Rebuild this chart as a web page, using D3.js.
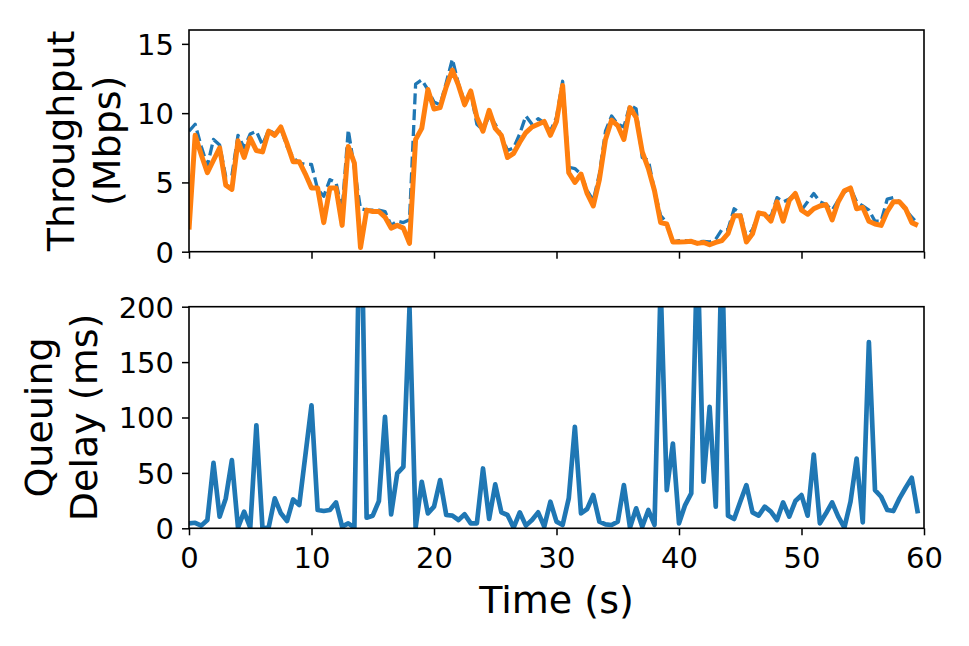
<!DOCTYPE html>
<html>
<head>
<meta charset="utf-8">
<script src="https://cdn.jsdelivr.net/npm/d3@7"></script>
<style>
  body { margin: 0; background: #fff; }
  svg { font-family: "DejaVu Sans", sans-serif; }
</style>
</head>
<body>
<svg id="chart" width="969" height="646"></svg>
<script>
// sample times (s), one sample every 0.5 s
var time = [
  0, 0.5, 1, 1.5, 2, 2.5, 3, 3.5, 4, 4.5, 5, 5.5, 6, 6.5, 7, 7.5, 8, 8.5, 9, 9.5,
  10, 10.5, 11, 11.5, 12, 12.5, 13, 13.5, 14, 14.5, 15, 15.5, 16, 16.5, 17, 17.5, 18, 18.5, 19, 19.5,
  20, 20.5, 21, 21.5, 22, 22.5, 23, 23.5, 24, 24.5, 25, 25.5, 26, 26.5, 27, 27.5, 28, 28.5, 29, 29.5,
  30, 30.5, 31, 31.5, 32, 32.5, 33, 33.5, 34, 34.5, 35, 35.5, 36, 36.5, 37, 37.5, 38, 38.5, 39, 39.5,
  40, 40.5, 41, 41.5, 42, 42.5, 43, 43.5, 44, 44.5, 45, 45.5, 46, 46.5, 47, 47.5, 48, 48.5, 49, 49.5,
  50, 50.5, 51, 51.5, 52, 52.5, 53, 53.5, 54, 54.5, 55, 55.5, 56, 56.5, 57, 57.5, 58, 58.5, 59, 59.5
];

// blue dashed line (Mbps)
var capacity = [
  8.7, 9.2, 7.6, 6.2, 8.1, 7.7, 5.4, 5.5, 8.4, 7.5, 8.5, 8.7, 7.7, 8.8, 8.5, 8.9, 7.6, 6.8, 6.4, 6.3,
  6.3, 4.5, 4.0, 5.2, 5.0, 3.0, 8.8, 6.0, 3.1, 3.0, 3.0, 3.0, 2.9, 1.9, 2.2, 2.1, 2.3, 12.1, 12.4, 11.7,
  10.8, 10.6, 12.2, 13.9, 12.1, 10.8, 11.5, 9.2, 8.8, 9.8, 9.2, 8.4, 7.3, 7.5, 8.5, 9.8, 9.2, 9.6, 9.3, 8.7,
  9.7, 12.3, 6.1, 6.0, 5.6, 4.4, 3.7, 5.6, 8.7, 9.8, 9.2, 9.0, 10.6, 10.3, 6.8, 6.6, 4.4, 2.6, 2.1, 0.7,
  0.8, 0.8, 0.75, 0.7, 0.75, 0.7, 0.9, 1.6, 1.6, 3.1, 2.8, 1.0, 1.6, 2.8, 2.7, 2.5, 3.9, 3.6, 3.8, 4.2,
  3.0, 3.6, 4.2, 3.6, 3.4, 3.0, 3.7, 4.3, 4.6, 3.6, 3.3, 3.0, 2.2, 2.2, 3.8, 3.9, 3.6, 3.0, 2.5, 2.0
];

// orange solid line (Mbps)
var throughput = [
  1.6, 8.4, 7.0, 5.7, 6.6, 7.5, 4.8, 4.5, 8.0, 6.8, 8.2, 7.3, 7.2, 8.7, 8.4, 9.0, 7.8, 6.5, 6.5, 5.6,
  4.6, 4.6, 2.1, 4.6, 4.6, 1.9, 7.6, 6.4, 0.3, 3.0, 2.9, 2.9, 2.5, 1.7, 1.9, 1.7, 0.6, 8.1, 8.9, 11.7,
  10.3, 10.4, 11.9, 13.1, 12.0, 10.6, 11.6, 9.7, 8.7, 10.2, 8.9, 8.4, 6.8, 7.1, 7.9, 8.6, 9.0, 9.2, 9.4, 8.4,
  9.4, 12.0, 5.7, 5.0, 5.6, 4.2, 3.3, 5.2, 8.1, 9.5, 9.1, 8.1, 10.4, 9.7, 7.2, 6.0, 4.4, 2.1, 2.0, 0.7,
  0.7, 0.72, 0.75, 0.6, 0.67, 0.5, 0.67, 0.8, 1.3, 2.6, 2.6, 0.7, 1.3, 2.8, 2.7, 2.2, 3.6, 2.2, 3.7, 4.2,
  3.0, 2.7, 3.1, 3.3, 3.4, 2.3, 3.6, 4.4, 4.6, 3.1, 3.2, 2.2, 2.0, 1.9, 2.9, 3.6, 3.6, 3.1, 2.1, 1.9
];

// queuing delay (ms), peaks above 200 are clipped by the axes
var delay = [
  4.5, 5, 2.4, 7.5, 59, 10.5, 27, 61.5, 0.6, 15, 0.6, 93, 0, 0.6, 27, 13.5, 6.6, 26, 21, 66,
  111, 16.5, 15.6, 16.5, 23.4, 1.5, 4.5, 0.6, 330, 9.6, 11.4, 24.6, 100.6, 12.6, 49.5, 55.5, 199, 0.6, 42, 13.5,
  19.5, 43.5, 12, 11.4, 7.5, 12.6, 4.5, 4.5, 54, 8.4, 39.6, 14.4, 12, 0.6, 14.4, 2.4, 7.5, 14.4, 1.5, 24,
  6, 3, 27, 91.6, 13.5, 17.4, 30, 6, 3.6, 3, 6, 39, 0.6, 18, 1.5, 16.5, 3, 220, 34.5, 76.5,
  4.5, 21, 31.5, 255, 42, 109.6, 19.5, 255, 11.4, 8.4, 24, 39, 14.4, 11.4, 19.5, 15, 7.5, 23.4, 10.5, 24.6,
  30, 11.4, 66.6, 4.5, 13.5, 23.4, 10.5, 0.6, 24, 63, 5.4, 168, 34.5, 28.5, 16.5, 15.6, 27, 36.6, 45.6, 13.5
];

var xTicks = [0, 10, 20, 30, 40, 50, 60];
var tputTicks = [0, 5, 10, 15];
var delayTicks = [0, 50, 100, 150, 200];

var blue = "#1f77b4", orange = "#ff7f0e";
var tickFont = 29, labelFont = 38;

var svg = d3.select("#chart");

var left = 189, right = 924;
var top1 = 30, bot1 = 251.7;
var top2 = 306.7, bot2 = 528.3;

var x = d3.scaleLinear().domain([0, 60]).range([left, right]);
var y1 = d3.scaleLinear().domain([0, 16]).range([bot1, top1]);
var y2 = d3.scaleLinear().domain([0, 200]).range([bot2, top2]);

var defs = svg.append("defs");
defs.append("clipPath").attr("id", "clip1").append("rect")
  .attr("x", left).attr("y", top1).attr("width", right - left).attr("height", bot1 - top1);
defs.append("clipPath").attr("id", "clip2").append("rect")
  .attr("x", left).attr("y", top2).attr("width", right - left).attr("height", bot2 - top2);

var line1 = function(vals) {
  return d3.line().x(function(d, i) { return x(time[i]); }).y(function(d) { return y1(d); })(vals);
};

// top panel
var g1 = svg.append("g").attr("clip-path", "url(#clip1)");
g1.append("path")
  .attr("d", line1(capacity))
  .attr("fill", "none")
  .attr("stroke", blue)
  .attr("stroke-width", 3.3)
  .attr("stroke-dasharray", "11,4.8")
  .attr("stroke-linejoin", "round");
g1.append("path")
  .attr("d", line1(throughput))
  .attr("fill", "none")
  .attr("stroke", orange)
  .attr("stroke-width", 5)
  .attr("stroke-linejoin", "round");

// bottom panel
var g2 = svg.append("g").attr("clip-path", "url(#clip2)");
g2.append("path")
  .attr("d", d3.line().x(function(d, i) { return x(time[i]); }).y(function(d) { return y2(d); })(delay))
  .attr("fill", "none")
  .attr("stroke", blue)
  .attr("stroke-width", 4.7)
  .attr("stroke-linejoin", "round");

// axes
function styleAxis(sel, showText) {
  sel.select(".domain").remove();
  sel.selectAll(".tick line").attr("stroke", "#000").attr("stroke-width", 1.5);
  sel.selectAll(".tick text")
    .attr("fill", "#000")
    .style("font-size", tickFont + "px")
    .style("font-family", "DejaVu Sans");
  if (!showText) sel.selectAll(".tick text").remove();
}

var xa1 = svg.append("g").attr("transform", "translate(0," + bot1 + ")")
  .call(d3.axisBottom(x).tickValues(xTicks).tickSize(7));
styleAxis(xa1, false);

var xa2 = svg.append("g").attr("transform", "translate(0," + bot2 + ")")
  .call(d3.axisBottom(x).tickValues(xTicks).tickSize(7).tickPadding(7).tickFormat(d3.format("d")));
styleAxis(xa2, true);
xa2.selectAll(".tick text").attr("dy", null).attr("y", 568.3 - bot2);

var ya1 = svg.append("g").attr("transform", "translate(" + left + ",0)")
  .call(d3.axisLeft(y1).tickValues(tputTicks).tickSize(7).tickPadding(8).tickFormat(d3.format("d")));
styleAxis(ya1, true);
ya1.selectAll(".tick text").attr("dy", "0.36em");

var ya2 = svg.append("g").attr("transform", "translate(" + left + ",0)")
  .call(d3.axisLeft(y2).tickValues(delayTicks).tickSize(7).tickPadding(8).tickFormat(d3.format("d")));
styleAxis(ya2, true);
ya2.selectAll(".tick text").attr("dy", "0.36em");

// frames
[[top1, bot1], [top2, bot2]].forEach(function(p) {
  svg.append("rect")
    .attr("x", left).attr("y", p[0])
    .attr("width", right - left).attr("height", p[1] - p[0])
    .attr("fill", "none").attr("stroke", "#000").attr("stroke-width", 1.6);
});

// axis labels
function yLabel(lines, xBase, cy) {
  var t = svg.append("text")
    .attr("transform", "translate(" + xBase + "," + cy + ") rotate(-90)")
    .attr("text-anchor", "middle")
    .style("font-size", labelFont + "px")
    .attr("fill", "#000");
  lines.forEach(function(s, i) {
    t.append("tspan").attr("x", 0).attr("y", i * 45.6).text(s);
  });
}
yLabel(["Throughput", "(Mbps)"], 74, (top1 + bot1) / 2);
yLabel(["Queuing", "Delay (ms)"], 51.5, (top2 + bot2) / 2);

svg.append("text")
  .attr("x", (left + right) / 2)
  .attr("y", 612.7)
  .attr("text-anchor", "middle")
  .style("font-size", labelFont + "px")
  .attr("fill", "#000")
  .text("Time (s)");
</script>
</body>
</html>
